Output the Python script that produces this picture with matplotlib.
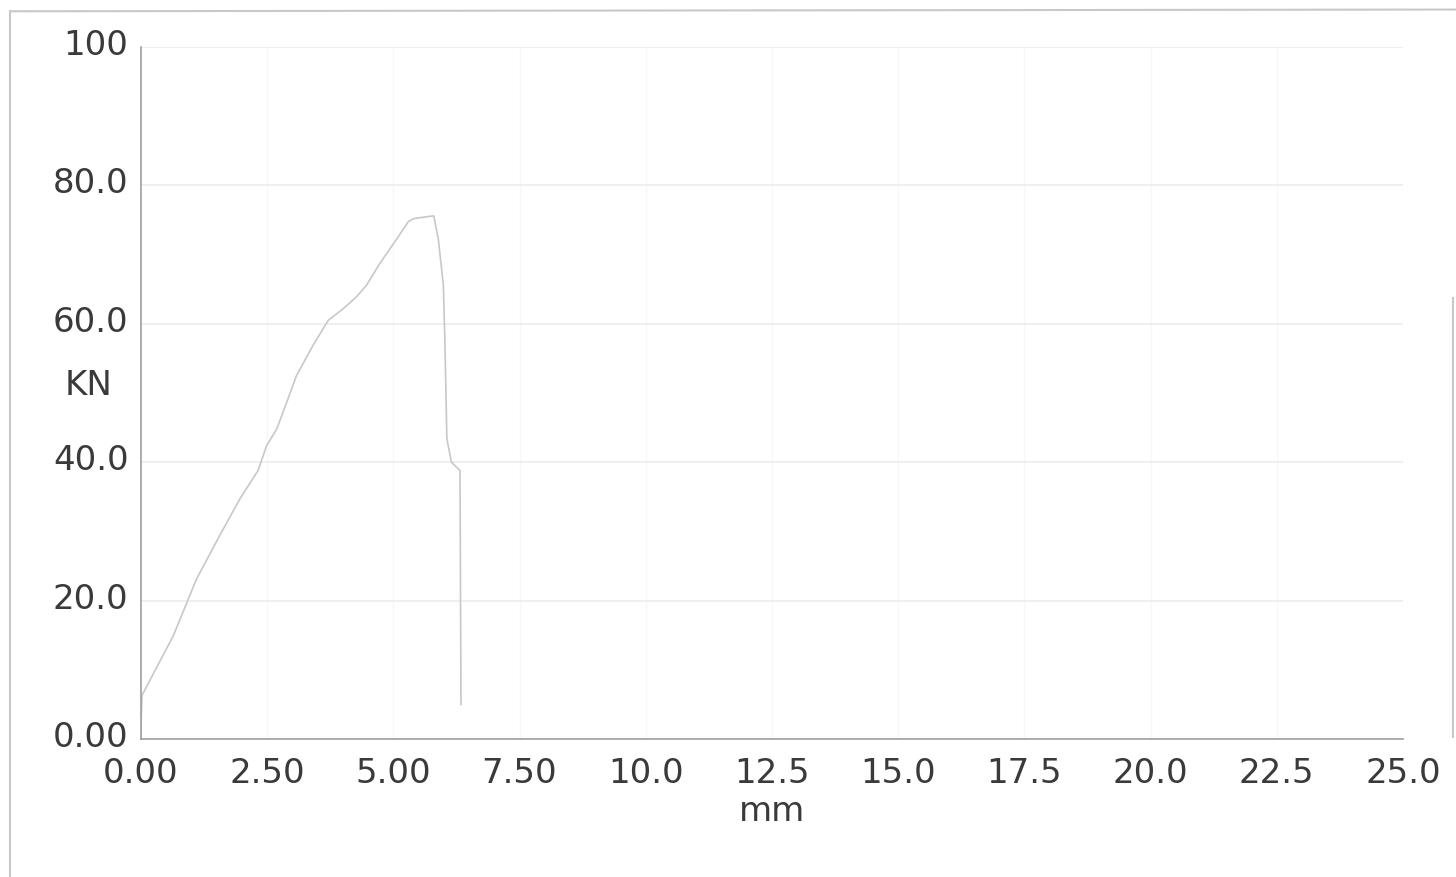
import matplotlib.pyplot as plt
from matplotlib.lines import Line2D
from matplotlib.transforms import ScaledTranslation

# load-displacement curve
disp_mm = [0.0, 0.0, 0.02, 0.64, 1.10, 1.56, 1.96, 2.32, 2.49, 2.69, 2.89, 3.08, 3.41,
           3.71, 4.01, 4.27, 4.47, 4.73, 5.07, 5.30, 5.40, 5.59, 5.80, 5.89, 5.99,
           6.02, 6.06, 6.15, 6.32, 6.34]
load_kn = [0.0, 2.0, 6.3, 14.9, 23.1, 29.4, 34.7, 38.8, 42.4, 44.8, 48.7, 52.5, 56.9,
           60.5, 62.2, 63.9, 65.6, 68.7, 72.3, 74.8, 75.2, 75.4, 75.6, 72.3, 65.6,
           57.8, 43.4, 40.0, 38.8, 5.0]

x_ticks = [0, 2.5, 5, 7.5, 10, 12.5, 15, 17.5, 20, 22.5, 25]
x_labels = ["0.00", "2.50", "5.00", "7.50", "10.0", "12.5", "15.0", "17.5", "20.0", "22.5", "25.0"]
y_ticks = [0, 20, 40, 60, 80, 100]
y_labels = ["0.00", "20.0", "40.0", "60.0", "80.0", "100"]

plt.rcParams['font.family'] = ['DejaVu Sans']
fs = 24.5

fig = plt.figure(figsize=(14.56, 8.78), dpi=100)
ax = fig.add_axes([0.0968, 0.1572, 0.8668, 0.7881])

ax.plot(disp_mm, load_kn, color="#c8c8c8", lw=1.2)

ax.set_xlim(0, 25)
ax.set_ylim(0, 100)
ax.set_xticks(x_ticks)
ax.set_xticklabels(x_labels)
ax.set_yticks(y_ticks)
ax.set_yticklabels(y_labels)
ax.tick_params(axis="both", length=0, labelsize=fs, colors="#3a3a3a")
ax.tick_params(axis="x", pad=12)
ax.tick_params(axis="y", pad=9)
# y labels sit a bit above their gridlines in the original
for lab in ax.get_yticklabels():
    lab.set_transform(lab.get_transform() + ScaledTranslation(0, 6 / 100, fig.dpi_scale_trans))

ax.yaxis.grid(True, color="#ececec", lw=1.2)
ax.xaxis.grid(True, color="#f7f7f7", lw=1.0)
ax.set_axisbelow(True)
for s in ["top", "right"]:
    ax.spines[s].set_visible(False)
for s in ["left", "bottom"]:
    ax.spines[s].set_color("#a0a0a0")
    ax.spines[s].set_linewidth(1.2)

ax.set_xlabel("mm", fontsize=fs, color="#3a3a3a", labelpad=4)
fig.text(0.061, 0.561, "KN", fontsize=fs, color="#3a3a3a", ha="center", va="center")

# edges of the scanned page frame
frame = dict(transform=fig.transFigure, color="#c8c8c8", lw=1.5)
fig.lines.append(Line2D([0.007, 1.0], [0.986, 0.988], **frame))
fig.lines.append(Line2D([0.007, 0.007], [0.0, 0.986], **frame))
fig.lines.append(Line2D([0.998, 0.998], [0.16, 0.66], **frame))

fig.savefig("out.png", dpi=100, facecolor="white")
